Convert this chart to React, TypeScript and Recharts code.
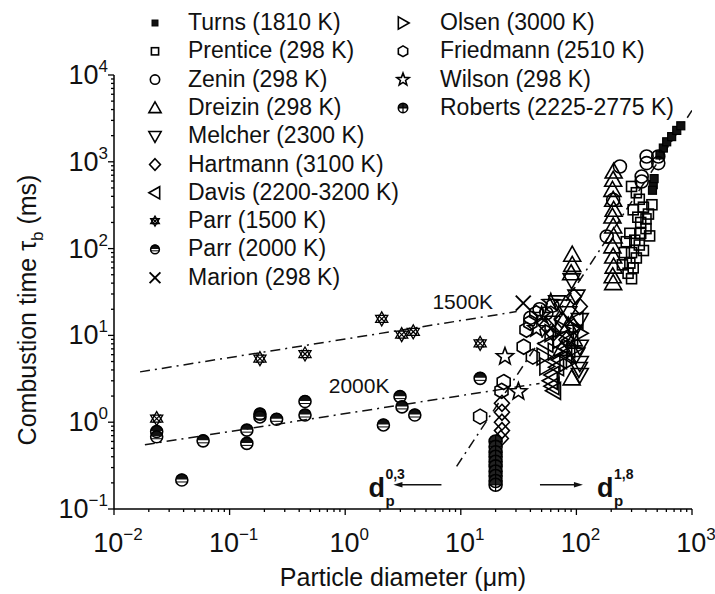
import React from 'react'
import { ScatterChart, Scatter, XAxis, YAxis } from 'recharts'

const FONT = "'Liberation Sans', Arial, Helvetica, sans-serif"

// particle diameter (um), combustion time (ms)
const turns = [[528, 1200], [565, 1440], [604, 1700], [667, 1950], [738, 2300], [800, 2600], [462, 545], [470, 640], [455, 470]]
const prentice = [[300, 520], [330, 440], [350, 370], [380, 300], [420, 250], [310, 280], [340, 230], [360, 200], [400, 170], [430, 140], [290, 150], [320, 125], [350, 110], [380, 95], [300, 90], [330, 78], [290, 68], [310, 60], [280, 52], [300, 45], [270, 120], [260, 90], [250, 65], [400, 220], [450, 320], [360, 150]]
const zenin = [[405, 1150], [511, 1150], [405, 966], [511, 966], [367, 677], [367, 593], [238, 883], [208, 365], [183, 138], [48, 20], [55, 18], [62, 22], [40, 16]]
const dreizin = [[210, 773], [208, 621], [205, 475], [208, 365], [210, 280], [205, 234], [208, 180], [210, 138], [205, 106], [208, 81], [210, 62], [206, 48], [208, 40], [92, 85], [92, 65], [90, 52], [85, 13], [95, 9], [75, 7], [91, 3.2]]
const melcher = [[91, 43], [100, 28], [107, 15], [107, 7.4], [107, 4.8], [107, 3.5], [75, 21.5], [68, 24], [85, 18], [95, 11], [100, 6], [105, 4.1], [62, 14]]
const hartmann = [[22.7, 1.65], [22.7, 1.3], [22.7, 1.0], [22.7, 0.8], [22.2, 0.65], [95, 28], [107, 21.5], [94, 12.6], [63, 10.6], [82, 8.9], [75, 15], [55, 13]]
const davis = [[100, 15], [90, 9], [80, 6], [68, 4.3], [62, 3.5], [60, 3.0], [62, 2.6], [64, 2.3], [72, 5.2], [85, 7], [55, 8]]
const parr1500 = [[0.0234, 1.1], [0.183, 5.4], [0.449, 6.1], [2.07, 15.5], [3.08, 10.2], [3.88, 11], [14.7, 8.1]]
const parr2000 = [[0.0234, 0.78], [0.0234, 0.68], [0.0386, 0.216], [0.059, 0.61], [0.141, 0.81], [0.141, 0.57], [0.183, 1.24], [0.183, 1.15], [0.255, 1.08], [0.449, 1.73], [0.449, 1.21], [2.14, 0.93], [2.98, 1.97], [3.1, 1.5], [4.0, 1.21], [14.7, 3.2]]
const marion = [[34.7, 23.5]]
const olsen = [[61, 10.6], [52, 5.7], [72, 8.9], [107, 10.6], [82, 4.8], [55, 4.4], [95, 7], [65, 6.5], [75, 12]]
const friedmann = [[14.7, 1.16], [23.5, 2.9], [22.5, 2.3], [37, 11.6], [35, 7.4], [42, 5.7], [45, 18], [40, 14]]
const wilson = [[24.1, 5.7], [31.5, 2.25], [60, 24], [50, 17], [45, 12]]
const roberts = [[20, 0.6], [20, 0.52], [20, 0.45], [20, 0.4], [20, 0.35], [20, 0.31], [20, 0.27], [20, 0.24], [20, 0.21], [20, 0.19]]

// fitted dash-dot lines
const fit1500 = [[0.0168, 3.8], [30.4, 18.8]]
const fit2000 = [[0.0185, 0.55], [48, 2.8]]
const fitLarge = [[9.2, 0.31], [1000, 3900]]

const tempLabels = [{ x: 10.4, y: 24.3, text: '1500K' }, { x: 1.32, y: 2.62, text: '2000K' }]
const slopeNotes = [{ x: 6.8, y: 0.19, exp: '0,3', dir: -1 }, { x: 48.4, y: 0.19, exp: '1,8', dir: 1 }]

const xTicks: number[] = []
for (let e = -2; e <= 3; e++) for (let m = 1; m <= 9; m++) if (e < 3 || m === 1) xTicks.push(m * Math.pow(10, e))
const yTicks: number[] = []
for (let e = -1; e <= 4; e++) for (let m = 1; m <= 9; m++) if (e < 4 || m === 1) yTicks.push(m * Math.pow(10, e))

const series = [
  { name: 'Turns (1810 K)', data: turns, kind: 'filledSquare' },
  { name: 'Prentice (298 K)', data: prentice, kind: 'square' },
  { name: 'Zenin (298 K)', data: zenin, kind: 'circle' },
  { name: 'Dreizin (298 K)', data: dreizin, kind: 'triUp' },
  { name: 'Melcher (2300 K)', data: melcher, kind: 'triDown' },
  { name: 'Hartmann (3100 K)', data: hartmann, kind: 'diamond' },
  { name: 'Davis (2200-3200 K)', data: davis, kind: 'triLeft' },
  { name: 'Parr (1500 K)', data: parr1500, kind: 'hexagram' },
  { name: 'Parr (2000 K)', data: parr2000, kind: 'halfCircle' },
  { name: 'Marion (298 K)', data: marion, kind: 'cross' },
  { name: 'Olsen (3000 K)', data: olsen, kind: 'triRight' },
  { name: 'Friedmann (2510 K)', data: friedmann, kind: 'hexagon' },
  { name: 'Wilson (298 K)', data: wilson, kind: 'star' },
  { name: 'Roberts (2225-2775 K)', data: roberts, kind: 'plusCircle' },
]

const toPts = (arr: number[][]) => arr.map(([x, y]) => ({ x, y }))

const poly = (pts: number[][]) => pts.map((p) => p.join(',')).join(' ')

function Marker({ kind, cx, cy, s }: { kind: string; cx: number; cy: number; s: number }) {
  const st = { fill: 'none', stroke: '#000', strokeWidth: 1.6 }
  switch (kind) {
    case 'filledSquare':
      return <rect x={cx - 4 * s} y={cy - 4 * s} width={8 * s} height={8 * s} fill="#111" stroke="#000" strokeWidth={1.2} />
    case 'square':
      return <rect x={cx - 5 * s} y={cy - 5 * s} width={10 * s} height={10 * s} {...st} />
    case 'circle':
      return <circle cx={cx} cy={cy} r={6.5 * s} {...st} />
    case 'triUp':
      return <polygon points={poly([[cx, cy - 8.5 * s], [cx + 8.5 * s, cy + 6.5 * s], [cx - 8.5 * s, cy + 6.5 * s]])} {...st} />
    case 'triDown':
      return <polygon points={poly([[cx, cy + 8.5 * s], [cx + 8.5 * s, cy - 6.5 * s], [cx - 8.5 * s, cy - 6.5 * s]])} {...st} />
    case 'triLeft':
      return <polygon points={poly([[cx - 8.5 * s, cy], [cx + 6.5 * s, cy - 8.5 * s], [cx + 6.5 * s, cy + 8.5 * s]])} {...st} />
    case 'triRight':
      return <polygon points={poly([[cx + 8.5 * s, cy], [cx - 6.5 * s, cy - 8.5 * s], [cx - 6.5 * s, cy + 8.5 * s]])} {...st} />
    case 'diamond':
      return <polygon points={poly([[cx, cy - 8 * s], [cx + 7.5 * s, cy], [cx, cy + 8 * s], [cx - 7.5 * s, cy]])} {...st} />
    case 'hexagon': {
      const r = 7.5 * s
      const pts = [0, 1, 2, 3, 4, 5].map((k) => {
        const a = ((-90 + 60 * k) * Math.PI) / 180
        return [cx + r * Math.cos(a), cy + r * Math.sin(a)]
      })
      return <polygon points={poly(pts)} {...st} />
    }
    case 'star': {
      const pts = Array.from({ length: 10 }, (_, k) => {
        const r = (k % 2 === 0 ? 9 : 3.8) * s
        const a = ((-90 + 36 * k) * Math.PI) / 180
        return [cx + r * Math.cos(a), cy + r * Math.sin(a)]
      })
      return <polygon points={poly(pts)} {...st} />
    }
    case 'cross': {
      const h = 7.5 * s
      return (
        <g {...st} strokeWidth={1.9}>
          <line x1={cx - h} y1={cy - h} x2={cx + h} y2={cy + h} />
          <line x1={cx - h} y1={cy + h} x2={cx + h} y2={cy - h} />
        </g>
      )
    }
    case 'hexagram': {
      const r = 7 * s
      const tri = (off: number) =>
        [0, 1, 2].map((k) => {
          const a = ((off + 120 * k) * Math.PI) / 180
          return [cx + r * Math.cos(a), cy + r * Math.sin(a)]
        })
      return (
        <g {...st} strokeWidth={1.3}>
          <polygon points={poly(tri(-90))} />
          <polygon points={poly(tri(90))} />
          <line x1={cx - 4 * s} y1={cy - 4 * s} x2={cx + 4 * s} y2={cy + 4 * s} />
          <line x1={cx - 4 * s} y1={cy + 4 * s} x2={cx + 4 * s} y2={cy - 4 * s} />
        </g>
      )
    }
    case 'halfCircle': {
      const r = 6 * s
      return (
        <g>
          <path d={`M${cx - r},${cy - 0.5} A${r},${r} 0 0 1 ${cx + r},${cy - 0.5} Z`} fill="#111" />
          <circle cx={cx} cy={cy} r={r} {...st} />
          <line x1={cx - r} x2={cx + r} y1={cy + 2 * s} y2={cy + 2 * s} stroke="#000" strokeWidth={1} />
        </g>
      )
    }
    case 'plusCircle': {
      const r = 6.5 * s
      return (
        <g>
          <path d={`M${cx - r},${cy} A${r},${r} 0 0 1 ${cx + r},${cy} Z`} fill="#222" />
          <circle cx={cx} cy={cy} r={r} {...st} />
          <line x1={cx - r} x2={cx + r} y1={cy} y2={cy} stroke="#000" strokeWidth={1.2} />
          <line x1={cx} x2={cx} y1={cy - r} y2={cy + r} stroke="#000" strokeWidth={1.2} />
        </g>
      )
    }
    default:
      return <g />
  }
}

const isMajor = (v: number) => {
  const e = Math.log10(v)
  return Math.abs(e - Math.round(e)) < 1e-9
}
const expText = (v: number) => String(Math.round(Math.log10(v))).replace('-', '\u2212')

const XTick = (props: any) => {
  const { x, y, payload } = props
  const v = payload.value
  const major = isMajor(v)
  return (
    <g>
      <line x1={x} x2={x} y1={y} y2={y + (major ? 6 : 3)} stroke="#000" strokeWidth={1.3} />
      {major && (
        <text x={x + 4} y={y + 43} textAnchor="middle" fontFamily={FONT} fontSize={27} fill="#111">
          10<tspan dy={-12} fontSize={17}>{expText(v)}</tspan>
        </text>
      )}
    </g>
  )
}

const YTick = (props: any) => {
  const { x, y, payload } = props
  const v = payload.value
  const major = isMajor(v)
  return (
    <g>
      <line x1={x} x2={x - (major ? 6 : 3)} y1={y} y2={y} stroke="#000" strokeWidth={1.3} />
      {major && (
        <text x={x - 6} y={y + 9} textAnchor="end" fontFamily={FONT} fontSize={27} fill="#111">
          10<tspan dy={-12} fontSize={17}>{expText(v)}</tspan>
        </text>
      )}
    </g>
  )
}

const dashDot = { stroke: '#111', strokeWidth: 1.5, strokeDasharray: '10 5 2 5' }
const noDot = () => <g />

function TempLabel(props: any) {
  const { cx, cy, payload } = props
  return (
    <text x={cx} y={cy + 7} textAnchor="middle" fontFamily={FONT} fontSize={21} fill="#111">
      {payload.text}
    </text>
  )
}

function SlopeNote(props: any) {
  const { cx, cy, payload } = props
  const dir = payload.dir
  const len = dir < 0 ? 48 : 43
  const tip = cx + dir * len
  const dx = dir < 0 ? tip - 25 : tip + 14
  return (
    <g fontFamily={FONT} fill="#111" fontWeight="bold">
      <line x1={cx} x2={tip - dir * 6} y1={cy} y2={cy} stroke="#111" strokeWidth={1.4} />
      <polygon points={poly([[tip, cy], [tip - dir * 9, cy - 2.8], [tip - dir * 9, cy + 2.8]])} fill="#111" />
      <text x={dx} y={cy + 12} fontSize={27}>d</text>
      <text x={dx + 17} y={cy - 6} fontSize={14}>{payload.exp}</text>
      <text x={dx + 17} y={cy + 21} fontSize={15}>p</text>
    </g>
  )
}

function Legend() {
  const col1 = series.slice(0, 10)
  const col2 = series.slice(10)
  const row = (i: number) => 22 + 28.3 * i
  return (
    <svg width={715} height={594} style={{ position: 'absolute', left: 0, top: 0, pointerEvents: 'none' }}>
      {col1.map((s, i) => (
        <g key={s.name}>
          <Marker kind={s.kind} cx={155} cy={row(i) + 1} s={0.72} />
          <text x={188} y={row(i) + 8} fontFamily={FONT} fontSize={23} fill="#111">{s.name}</text>
        </g>
      ))}
      {col2.map((s, i) => (
        <g key={s.name}>
          <Marker kind={s.kind} cx={403} cy={row(i) + 1} s={0.72} />
          <text x={440} y={row(i) + 8} fontFamily={FONT} fontSize={23} fill="#111">{s.name}</text>
        </g>
      ))}
    </svg>
  )
}

export default function App() {
  return (
    <div style={{ position: 'absolute', left: 0, top: 0, width: 715, height: 594, background: '#fff' }}>
      <ScatterChart width={715} height={594} margin={{ top: 75, right: 23, bottom: 0, left: 0 }}>
        <XAxis
          type="number"
          dataKey="x"
          scale="log"
          domain={[0.01, 1000]}
          ticks={xTicks}
          interval={0}
          allowDataOverflow
          height={85}
          tickSize={0}
          tickMargin={0}
          tickLine={false}
          tick={<XTick />}
          axisLine={{ stroke: '#000', strokeWidth: 1.5 }}
          label={{
            content: () => (
              <text x={403} y={586} textAnchor="middle" fontFamily={FONT} fontSize={25} fill="#111">
                Particle diameter (μm)
              </text>
            ),
          }}
        />
        <YAxis
          type="number"
          dataKey="y"
          scale="log"
          domain={[0.1, 10000]}
          ticks={yTicks}
          interval={0}
          allowDataOverflow
          width={114}
          tickSize={0}
          tickMargin={0}
          tickLine={false}
          tick={<YTick />}
          axisLine={{ stroke: '#000', strokeWidth: 1.5 }}
          label={{
            content: () => (
              <text transform="translate(36, 310) rotate(-90)" textAnchor="middle" fontFamily={FONT} fontSize={25} fill="#111">
                Combustion time τ<tspan dy={7} fontSize={17}>b</tspan>
                <tspan dy={-7}> (ms)</tspan>
              </text>
            ),
          }}
        />
        <Scatter data={toPts(fit1500)} line={dashDot} lineType="joint" shape={noDot} isAnimationActive={false} />
        <Scatter data={toPts(fit2000)} line={dashDot} lineType="joint" shape={noDot} isAnimationActive={false} />
        <Scatter data={toPts(fitLarge)} line={dashDot} lineType="joint" shape={noDot} isAnimationActive={false} />
        {series.map((s) => (
          <Scatter
            key={s.name}
            name={s.name}
            data={toPts(s.data)}
            isAnimationActive={false}
            shape={(p: any) => <Marker kind={s.kind} cx={p.cx} cy={p.cy} s={1} />}
          />
        ))}
        <Scatter data={tempLabels} shape={<TempLabel />} isAnimationActive={false} />
        <Scatter data={slopeNotes} shape={<SlopeNote />} isAnimationActive={false} />
      </ScatterChart>
      <Legend />
    </div>
  )
}
